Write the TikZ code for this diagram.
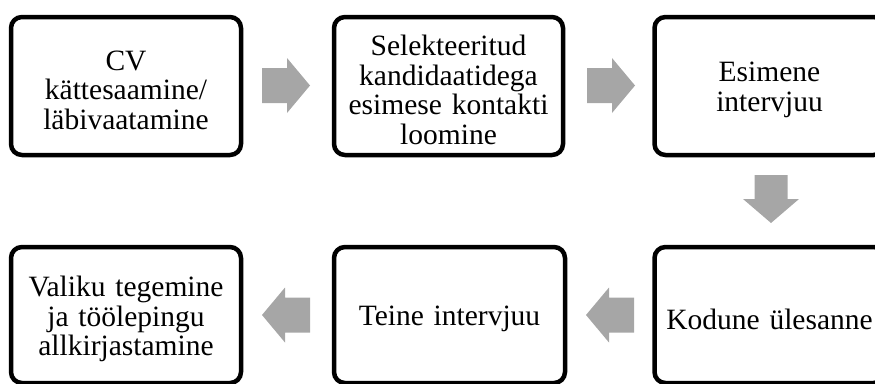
\documentclass[tikz,border=0pt]{standalone}
\usepackage{fontspec}
\setmainfont{Liberation Serif}
\definecolor{arrowgray}{RGB}{166,166,166}
\begin{document}
\begin{tikzpicture}[x=1pt,y=-1pt,
  stepbox/.style={draw=black, line width=4.5pt, rounded corners=11pt, fill=white,
    minimum width=230pt, inner sep=0pt},
  steptext/.style={align=center, inner sep=0pt, text width=226pt, yshift=-4pt,
    font=\fontsize{29.5}{29.5}\selectfont},
  rowone/.style={minimum height=138pt},
  rowtwo/.style={minimum height=136pt},
  rarrow/.pic={\fill[arrowgray] (-24,-17.5) -- (1,-17.5) -- (1,-27.5) -- (24,0) -- (1,27.5) -- (1,17.5) -- (-24,17.5) -- cycle;},
  larrow/.pic={\fill[arrowgray] (24,-17.5) -- (-1,-17.5) -- (-1,-27.5) -- (-24,0) -- (-1,27.5) -- (-1,17.5) -- (24,17.5) -- cycle;},
  darrow/.pic={\fill[arrowgray] (-16.5,-24) -- (16.5,-24) -- (16.5,0) -- (28,0) -- (0,24) -- (-28,0) -- (-16.5,0) -- cycle;}
]
\useasboundingbox (0,0) rectangle (875,383);
\clip (0,0) rectangle (875,383);
\node[stepbox,rowone] (b1) at (126,86) {};
\node[stepbox,rowone,minimum width=229pt] (b2) at (448.5,86) {};
\node[stepbox,rowone] (b3) at (769.5,86) {};
\node[stepbox,rowtwo] (b4) at (769.5,315) {};
\node[stepbox,rowtwo,minimum width=231pt] (b5) at (449.5,315) {};
\node[stepbox,rowtwo] (b6) at (126,315) {};
\node[steptext] (t1) at (b1.center) {CV\\kättesaamine/\\läbivaatamine};
\node[steptext] (t2) at (b2.center) {Selekteeritud\\kandidaatidega\\esimese kontakti\\loomine};
\node[steptext] (t3) at (b3.center) {Esimene\\intervjuu};
\node[steptext] (t4) at (b4.center) {Kodune ülesanne};
\node[steptext] (t5) at (b5.center) {Teine intervjuu};
\node[steptext] (t6) at (b6.center) {Valiku tegemine\\ja töölepingu\\allkirjastamine};
\pic at (286,85.5) {rarrow};
\pic at (611,85.5) {rarrow};
\pic at (771,199) {darrow};
\pic at (610,315) {larrow};
\pic at (286,315) {larrow};
\end{tikzpicture}
\end{document}
